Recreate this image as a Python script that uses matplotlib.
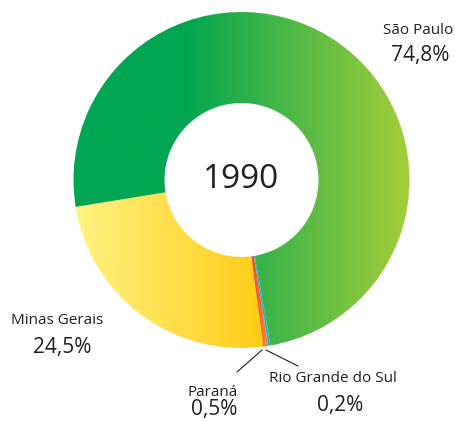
import matplotlib
matplotlib.use("Agg")
import matplotlib.pyplot as plt
import numpy as np
from matplotlib.colors import LinearSegmentedColormap

states = ["Minas Gerais", "Paraná", "Rio Grande do Sul", "São Paulo"]
shares = [24.5, 0.5, 0.2, 74.8]
share_labels = ["24,5%", "0,5%", "0,2%", "74,8%"]
year = "1990"

gradients = [
    [(0.0, "#fff382"), (1.0, "#ffcb16")],
    [(0.0, "#ed1c24"), (1.0, "#f7941d")],
    [(0.0, "#27aae1"), (1.0, "#27aae1")],
    [(0.0, "#00a651"), (0.33, "#00a651"), (1.0, "#a6ce39")],
]

plt.rcParams['font.family'] = ['Open Sans', 'DejaVu Sans']
W, H = 455, 421
fig = plt.figure(figsize=(W / 100, H / 100), dpi=100)
ax = fig.add_axes([0, 0, 1, 1])

cx, cy = 241.5, H - 180
R = 168
r_in = 77
wedges, _ = ax.pie(shares, startangle=189.2, counterclock=True, radius=R,
                   center=(cx, cy), frame=True,
                   wedgeprops=dict(width=R - r_in, linewidth=0))

for w, stops in zip(wedges, gradients):
    w.set_facecolor('none')
    verts = w.get_path().vertices
    x0, x1 = verts[:, 0].min(), verts[:, 0].max()
    y0, y1 = verts[:, 1].min(), verts[:, 1].max()
    cmap = LinearSegmentedColormap.from_list("g", stops)
    grad = np.linspace(0, 1, 256).reshape(1, -1)
    im = ax.imshow(grad, extent=[x0, x1, y0, y1], cmap=cmap, aspect='auto',
                   origin='lower', interpolation='bilinear', zorder=1)
    im.set_clip_path(w)

ax.set_xlim(0, W)
ax.set_ylim(0, H)
ax.set_aspect('equal')
ax.axis('off')

tc = "#231f20"
ax.text(cx, cy, year, ha='center', va='center', fontsize=24, color=tc)

def t(x, y, s, size):
    ax.text(x, H - y, s, ha='center', va='center', fontsize=size, color=tc)

t(418, 31, states[3], 11)
t(420, 56, share_labels[3], 15)
t(57, 321, states[0], 11)
t(62, 347, share_labels[0], 15)
t(213, 392, states[1], 11)
t(214, 410, share_labels[1], 15)
t(333, 379, states[2], 11)
t(340, 406, share_labels[2], 15)

ax.plot([262, 237], [H - 350, H - 372], color=tc, lw=0.8)
ax.plot([266, 298], [H - 350, H - 366], color=tc, lw=0.8)

fig.savefig("out.png", dpi=100)
